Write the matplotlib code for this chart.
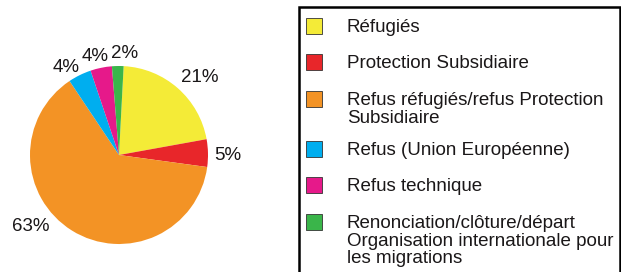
import numpy as np
import matplotlib.pyplot as plt
from matplotlib.patches import Rectangle

# data
labels = ['Réfugiés', 'Protection Subsidiaire',
          'Refus réfugiés/refus Protection\nSubsidiaire',
          'Refus (Union Européenne)', 'Refus technique',
          'Renonciation/clôture/départ\nOrganisation internationale pour\nles migrations']
values = [21.3, 5.0, 63.4, 4.2, 3.9, 2.1]
colors = ['#F4EB37', '#E8262A', '#F39325', '#00AEEF', '#E6198A', '#3AB54A']

# where the % labels sit: distance from centre (in radii) and angle nudge (deg)
lab_dist = [1.26, 1.22, 1.28, 1.15, 1.14, 1.14]
lab_shift = [-5, -1.6, -19, 5, 2, -4]

W, H = 621, 272
plt.rcParams['font.family'] = ['Liberation Sans', 'DejaVu Sans']
fig = plt.figure(figsize=(W / 100, H / 100), dpi=100)
txtcol = '#1A1718'

# pie, centre (119,155) px, radius 89 px
cx, cy, r = 119, 155, 89
ax = fig.add_axes([(cx - r) / W, (H - cy - r) / H, 2 * r / W, 2 * r / H])
wedges, texts, autotexts = ax.pie(values, colors=colors, startangle=87, counterclock=False,
                                  autopct='%.0f%%', wedgeprops=dict(linewidth=0))
for w, t, d, s in zip(wedges, autotexts, lab_dist, lab_shift):
    mid = np.deg2rad((w.theta1 + w.theta2) / 2 + s)
    t.set_position((d * np.cos(mid), d * np.sin(mid)))
    t.set_fontsize(13.5)
    t.set_color(txtcol)
    t.set_clip_on(False)
ax.set_xlim(-1, 1)
ax.set_ylim(-1, 1)
ax.set_aspect('equal')
ax.axis('off')

# legend box, runs off the right and bottom edges
fig.patches.append(Rectangle((298.5 / W, -0.1), (620 - 298.5) / W, 1 - 6.7 / H + 0.1,
                             transform=fig.transFigure, fill=False,
                             edgecolor='black', linewidth=1.8))
baselines = [32, 68.5, 105, 155, 191, 228]
gap = 17.6
for lab, col, yb in zip(labels, colors, baselines):
    fig.patches.append(Rectangle((306 / W, 1 - (yb + 1.5) / H), 16 / W, 15.5 / H,
                                 transform=fig.transFigure, facecolor=col,
                                 edgecolor='#333333', linewidth=0.6))
    for k, line in enumerate(lab.split('\n')):
        fig.text(347 / W, 1 - (yb + k * gap) / H, line, fontsize=13.5,
                 va='baseline', ha='left', color=txtcol)

fig.savefig('out.png', dpi=100)
